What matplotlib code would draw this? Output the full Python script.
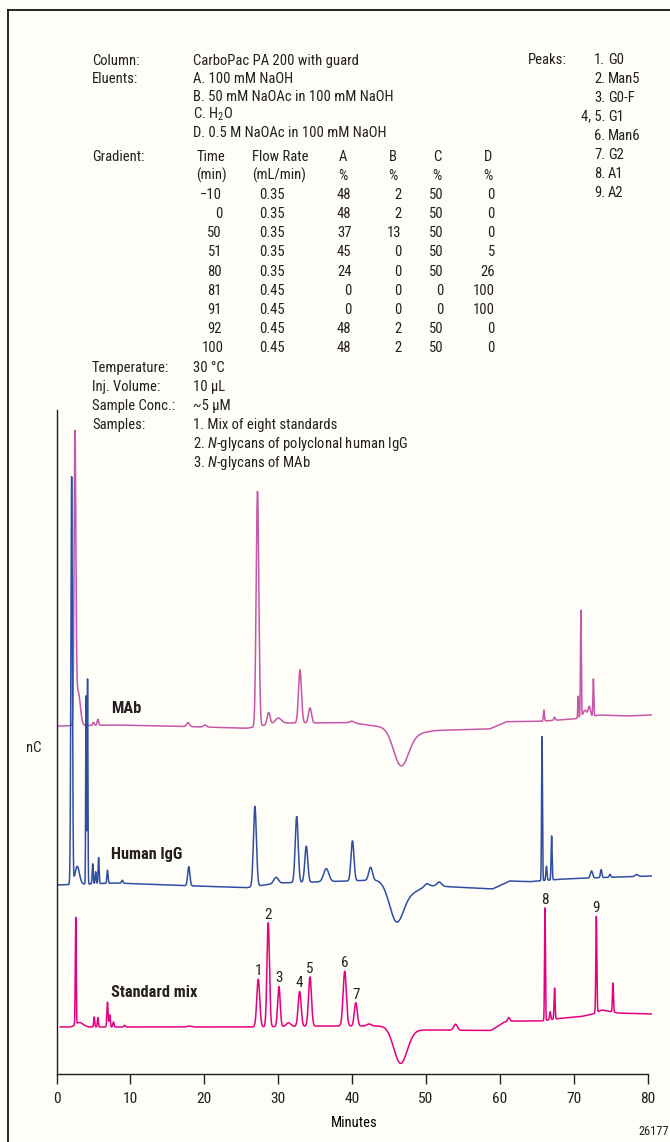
import numpy as np
import matplotlib.pyplot as plt
from matplotlib import font_manager
from matplotlib.lines import Line2D

INK = "#231f20"
PAPER = "#fefdf8"
STD_COLOR = "#e4007f"
IGG_COLOR = "#2f4ea3"
MAB_COLOR = "#c457a6"

# condensed grotesque for all the lettering
_fonts = font_manager.fontManager.ttflist
_names = {f.name for f in _fonts}
prefs = ["Roboto Condensed", "Archivo Narrow", "Liberation Sans Narrow", "DejaVu Sans"]
FONT = next(n for n in prefs if n in _names)
BOLD_FONT = next((n for n in prefs if any(f.name == n and f.weight in (700, "bold") for f in _fonts)), FONT)

plt.rcParams.update({
    "font.family": [FONT, "DejaVu Sans"],
    "font.size": 11,
    "mathtext.fontset": "custom",
    "mathtext.rm": FONT,
    "mathtext.it": FONT + ":italic",
    "text.color": INK,
})

# ---- gradient table -------------------------------------------------------
grad_time = [-10, 0, 50, 51, 80, 81, 91, 92, 100]
grad_flow = [0.35, 0.35, 0.35, 0.35, 0.35, 0.45, 0.45, 0.45, 0.45]
grad_a = [48, 48, 37, 45, 24, 0, 0, 48, 48]
grad_b = [2, 2, 13, 0, 0, 0, 0, 2, 2]
grad_c = [50, 50, 50, 50, 50, 0, 0, 50, 50]
grad_d = [0, 0, 0, 5, 26, 100, 100, 0, 0]

peak_ids = ["1.", "2.", "3.", "4, 5.", "6.", "7.", "8.", "9."]
peak_names = ["G0", "Man5", "G0-F", "G1", "Man6", "G2", "A1", "A2"]

minute_ticks = [0, 10, 20, 30, 40, 50, 60, 70, 80]

# ---- chromatograms (signal in nC, offset per trace) -------------------------
# standard mix
std_span = (0.5, 80.5)
std_base_t = [0.5, 26.0, 36.0, 44.5, 48.0, 50.0, 58.8, 60.6, 61.8, 65.5, 68.0, 71.0, 72.6, 73.8, 76.0, 80.5]
std_base_y = [47, 47, 48, 48, 44, 44, 43.5, 52, 53, 53, 55.5, 57.5, 60, 64, 61, 60]
std_rt = [2.6, 3.1, 5.1, 5.6, 6.9, 7.2, 7.7, 9.2, 18.0, 27.3, 28.65, 30.1, 31.4, 32.9, 34.3,
          39.0, 40.5, 42.3, 46.55, 54.0, 61.2, 66.1, 66.8, 67.4, 73.05, 75.3]
std_h = [107, 4.5, 10, 9.5, 24.7, 12, 5, 1.7, 1, 47.6, 104, 40, 3.7, 34.8, 49.3,
         54.7, 23.3, 2, -35, 6, 4, 112.5, 8, 31, 96, 29]
std_w = [0.06, 0.5, 0.07, 0.07, 0.08, 0.08, 0.08, 0.1, 0.3, 0.2, 0.17, 0.17, 0.3, 0.2, 0.2,
         0.22, 0.2, 0.3, 0.9, 0.25, 0.15, 0.06, 0.08, 0.07, 0.07, 0.07]
std_labels = ["1", "2", "3", "4", "5", "6", "7", "8", "9"]
std_label_rt = [27.3, 28.65, 30.1, 32.9, 34.3, 39.0, 40.5, 66.1, 73.05]

# polyclonal human IgG
igg_span = (0.1, 80.5)
igg_base_t = [0.1, 8.0, 15.0, 25.7, 30.0, 35.0, 43.5, 50.1, 53.0, 59.0, 61.3, 64.0, 68.0, 72.0, 80.5]
igg_base_y = [189, 191, 189, 186.3, 191, 192, 194, 189, 187.3, 185, 193, 192.3, 194.7, 196, 198]
igg_rt = [2.05, 2.8, 4.0, 4.2, 4.9, 5.3, 5.7, 6.9, 8.9, 17.9, 26.85, 29.7, 32.5, 33.8, 36.5,
          40.05, 42.5, 46.0, 48.0, 50.1, 51.8, 65.7, 66.3, 67.0, 72.4, 73.7, 74.9, 78.5]
igg_h = [407, 18, 188, 205, 20, 12, 26, 13, 3, 19, 80, 6, 66, 36, 13,
         40, 13, -38, -8, 3, 4, 144, 14, 44, 7, 8, 3, 2]
igg_w = [0.1, 0.3, 0.05, 0.05, 0.07, 0.07, 0.07, 0.08, 0.1, 0.15, 0.2, 0.3, 0.2, 0.2, 0.35,
         0.2, 0.25, 0.95, 1.2, 0.3, 0.3, 0.06, 0.08, 0.07, 0.15, 0.1, 0.1, 0.2]

# MAb
mab_span = (0.2, 80.5)
mab_base_t = [0.2, 8.0, 20.0, 25.7, 30.0, 40.0, 42.7, 50.1, 58.6, 60.9, 65.4, 69.9, 73.5, 77.0, 80.5]
mab_base_y = [348, 349, 347, 345.7, 351, 351.3, 348.3, 343.3, 345, 352.3, 352.7, 355, 359, 358, 359]
mab_rt = [2.5, 2.9, 5.0, 5.6, 17.8, 20.1, 27.2, 28.7, 30.0, 32.95, 34.3, 40.0, 46.6, 48.3,
          65.95, 67.4, 70.6, 70.96, 71.5, 72.1, 72.65]
mab_h = [281, 35, 3, 6, 4, 2, 235, 12, 5, 53, 15, 1.5, -36, -4,
         11, 3, 22, 107, 7, 10, 37]
mab_w = [0.12, 0.3, 0.1, 0.1, 0.2, 0.2, 0.18, 0.2, 0.4, 0.2, 0.2, 0.3, 1.0, 1.2,
         0.07, 0.1, 0.06, 0.06, 0.25, 0.15, 0.06]


def build_trace(span, base_t, base_y, rt, h, w):
    t = np.arange(span[0], span[1], 0.01)
    y = np.interp(t, base_t, base_y)
    for r, a, s in zip(rt, h, w):
        y = y + a * np.exp(-0.5 * ((t - r) / s) ** 2)
    return t, y


W, H = 670, 1142
fig = plt.figure(figsize=(W / 100, H / 100), dpi=100, facecolor=PAPER)
renderer = fig.canvas.get_renderer()


def fit_size(s, width_px, **kw):
    # font size that makes s run width_px pixels wide
    probe = fig.text(0, 0, s, fontsize=10, **kw)
    w = probe.get_window_extent(renderer).width
    probe.remove()
    return 10 * width_px / w


BASE = fit_size("CarboPac PA 200 with guard", 164)
BOLD = fit_size("Standard mix", 86, family=BOLD_FONT, fontweight="bold")
plt.rcParams["font.size"] = BASE

# page frame
fig.add_artist(Line2D([8 / W, 8 / W], [0, 1 - 10 / H], color="black", lw=1.2))
fig.add_artist(Line2D([8 / W, 1], [1 - 10 / H, 1 - 10 / H], color="black", lw=1.2))


def put(x, y, s, **kw):
    # x, y in pixels from top-left, y = middle of the capitals
    fig.text(x / W, 1 - (y + 5.6) / H, s, va="baseline", **kw)


# ---- conditions block ----
put(92, 59, "Column:")
put(193, 59, "CarboPac PA 200 with guard")
put(92, 77, "Eluents:")
put(193, 77, "A. 100 mM NaOH")
put(193, 95, "B. 50 mM NaOAc in 100 mM NaOH")
put(193, 113, "C. H$_2$O")
put(193, 131, "D. 0.5 M NaOAc in 100 mM NaOH")

put(92, 155, "Gradient:")
row0, step = 155, 19.15
put(197, row0, "Time")
put(196, row0 + step, "(min)")
put(252, row0, "Flow Rate")
put(252, row0 + step, "(mL/min)")
for cx, head in zip([343, 393, 437, 488], ["A", "B", "C", "D"]):
    put(cx, row0, head, ha="center")
    put(cx, row0 + step, "%", ha="center")
for i in range(len(grad_time)):
    y = row0 + step * (i + 2)
    tm = grad_time[i]
    put(222 if abs(tm) < 100 else 224, y, ("\u2212%d" % -tm) if tm < 0 else "%d" % tm, ha="right")
    put(272, y, "%.2f" % grad_flow[i], ha="center")
    put(351.5, y, "%d" % grad_a[i], ha="right")
    put(401.5, y, "%d" % grad_b[i], ha="right")
    put(443.5, y, "%d" % grad_c[i], ha="right")
    put(495, y, "%d" % grad_d[i], ha="right")

put(92, 366, "Temperature:")
put(193, 366, "30 \u00b0C")
put(92, 385, "Inj. Volume:")
put(193, 385, "10 \u00b5L")
put(92, 404, "Sample Conc.:")
put(193, 404, "~5 \u00b5M")
put(92, 423, "Samples:")
put(193, 423, "1. Mix of eight standards")
put(193, 442, "2. $\\mathit{N}$-glycans of polyclonal human IgG")
put(193, 461, "3. $\\mathit{N}$-glycans of MAb")

put(528, 58, "Peaks:")
for i, (pid, name) in enumerate(zip(peak_ids, peak_names)):
    put(605, 58 + 19 * i, pid, ha="right")
    put(608, 58 + 19 * i, name)

# ---- chromatogram axes ----
ax = fig.add_axes([56.5 / W, (H - 1074) / H, 80.6 * 7.39 / W, 664 / H])
ax.set_facecolor("none")
ax.set_xlim(0, 80.6)
ax.set_ylim(0, 664)

t_mab, y_mab = build_trace(mab_span, mab_base_t, mab_base_y, mab_rt, mab_h, mab_w)
t_igg, y_igg = build_trace(igg_span, igg_base_t, igg_base_y, igg_rt, igg_h, igg_w)
t_std, y_std = build_trace(std_span, std_base_t, std_base_y, std_rt, std_h, std_w)

ax.plot(t_mab, y_mab, color=MAB_COLOR, lw=1.1)
ax.plot(t_igg, y_igg, color=IGG_COLOR, lw=1.1)
ax.plot(t_std, y_std, color=STD_COLOR, lw=1.1)

for lab, rt in zip(std_labels, std_label_rt):
    apex = y_std[np.abs(t_std - rt).argmin()]
    ax.annotate(lab, (rt, apex), xytext=(0, 3), textcoords="offset points",
                ha="center", va="baseline", fontsize=BASE * 1.04)

lab_kw = dict(fontsize=BOLD, family=BOLD_FONT, fontweight="bold")
put(111, 707.5, "MAb", **lab_kw)
put(111, 853, "Human IgG", **lab_kw)
put(111, 991, "Standard mix", **lab_kw)

for side in ["top", "right"]:
    ax.spines[side].set_visible(False)
for side in ["left", "bottom"]:
    ax.spines[side].set_color(INK)
    ax.spines[side].set_linewidth(1.0)
ax.spines["bottom"].set_bounds(0, 80)
ax.set_yticks([])
ax.set_xticks(minute_ticks)
ax.tick_params(axis="x", direction="out", length=7.2, width=1.0, pad=6,
               labelsize=BASE * 1.06, colors=INK)
ax.set_xlabel("Minutes", fontsize=BASE, labelpad=7)

put(26, 746, "nC")
fig.text(669 / W, 1 - 1135 / H, "26177", ha="right", va="baseline", fontsize=BASE * 0.85)

fig.savefig("out.png", dpi=100, facecolor=PAPER)
